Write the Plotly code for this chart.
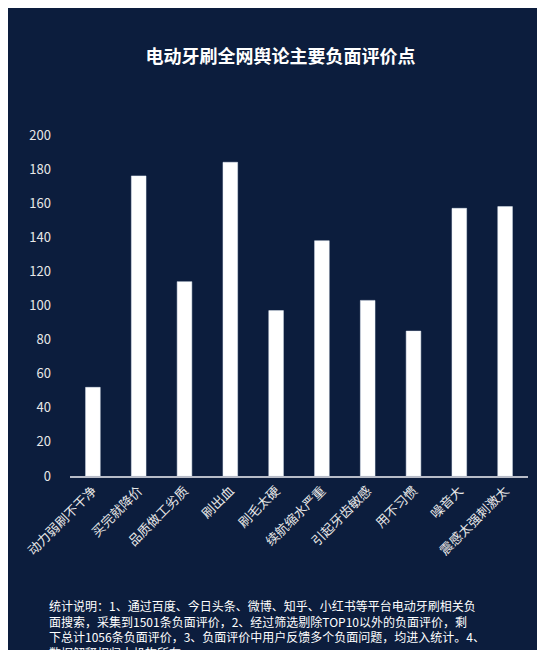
import plotly.graph_objects as go

categories = ["动力弱刷不干净", "买完就降价", "品质做工劣质", "刷出血", "刷毛太硬",
              "续航缩水严重", "引起牙齿敏感", "用不习惯", "噪音大", "震感太强刺激太"]
values = [52, 176, 114, 184, 97, 138, 103, 85, 157, 158]
title = "电动牙刷全网舆论主要负面评价点"
note = ("统计说明：1、通过百度、今日头条、微博、知乎、小红书等平台电动牙刷相关负<br>"
        "面搜索，采集到1501条负面评价，2、经过筛选剔除TOP10以外的负面评价，剩<br>"
        "下总计1056条负面评价，3、负面评价中用户反馈多个负面问题，均进入统计。4、<br>"
        "数据解释权归本机构所有。")

font = "Noto Sans CJK SC"
fig = go.Figure(go.Bar(x=categories, y=values, marker_color="white", width=0.32))
fig.update_layout(
    width=545, height=650,
    paper_bgcolor="#0c1d3d", plot_bgcolor="#0c1d3d",
    margin=dict(l=62, r=25, t=127, b=182),
    font=dict(family=font, color="white", size=13),
    title=dict(text="<b>" + title + "</b>", x=0.5, xanchor="center", y=0.925, yanchor="middle",
               font=dict(size=18, color="white", family=font)),
    showlegend=False,
    xaxis=dict(tickangle=-45, showgrid=False, showline=True, linecolor="#b8bcc8", linewidth=2,
               tickfont=dict(size=13, color="#e8e8e8"), ticks=""),
    yaxis=dict(range=[0, 200], dtick=20, showgrid=False, zeroline=False,
               tickfont=dict(size=13, color="#e8e8e8"), ticks="", ticklabelstandoff=18),
    annotations=[dict(text=note, xref="paper", yref="paper", x=-0.05, y=-0.35,
                      xanchor="left", yanchor="top", showarrow=False, align="left",
                      font=dict(size=12, color="white", family=font))],
)
fig.write_html("out.html")
